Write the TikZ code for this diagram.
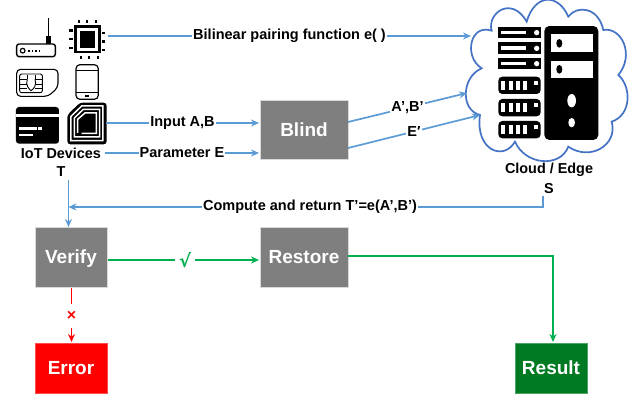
\documentclass[tikz,border=0pt]{standalone}
\usepackage{fontspec}
\setmainfont{Liberation Sans}
\newfontfamily\symfont{DejaVu Sans}
\usetikzlibrary{arrows.meta}
\definecolor{linkblue}{HTML}{5B9BD5}
\definecolor{cloudblue}{HTML}{4472C4}
\definecolor{okgreen}{HTML}{00B050}
\definecolor{boxgrey}{HTML}{7F7F7F}
\definecolor{resgreen}{HTML}{007A22}
\definecolor{badred}{HTML}{FF0000}
\tikzset{
  x=1pt,y=-1pt,
  boxn/.style={draw=black!15,line width=.6pt,fill=boxgrey,text=white,font=\fontsize{19}{22}\selectfont\bfseries,inner sep=0pt,minimum width=72pt,minimum height=60pt},
  lbl/.style={fill=white,inner sep=1pt,text=black,font=\fontsize{14.5}{16}\selectfont\bfseries},
  captext/.style={inner sep=0pt,text=black,font=\fontsize{14.4}{16}\selectfont\bfseries},
  link/.style={draw=linkblue,line width=1.7pt},
  linka/.style={link,-{Stealth[length=8pt,width=7pt]}},
  zoomed/.style={x=.3333pt,y=-.3333pt},
  greena/.style={draw=okgreen,line width=1.6pt,-{Stealth[length=8pt,width=7pt]}},
  reda/.style={draw=badred,line width=1.6pt,-{Stealth[length=8pt,width=7pt]}},
}
\begin{document}
\begin{tikzpicture}
\useasboundingbox (0,0) rectangle (642,400);
\fill[white] (0,0) rectangle (642,400);

% ---- device icons (drawn in 3x zoom coordinates)
\begin{scope}[zoomed]
 % router
 \draw[line width=1.1pt] (145,55)--(145,110);
 \fill (138,108) rectangle (152,132);
 \draw[line width=1.4pt,fill=white,rounded corners=2.5pt] (50,132) rectangle (166,170);
 \draw[line width=1.2pt] (68,152) circle (7);
 \foreach \q in {84,95,106,116}{\fill (\q,150) rectangle +(5,7);}
 % chip
 \fill (222,75) rectangle (302,160);
 \fill[white] (231,84) rectangle (294,152);
 \fill (240,93) rectangle (285,143);
 \foreach \q in {233,257,284}{\fill (\q,60) rectangle +(7,10);}
 \foreach \q in {240,264,290}{\fill (\q,168) rectangle +(7,10);}
 \foreach \q in {88,114,140}{\fill (207,\q) rectangle +(11,7);}
 \foreach \q in {95,121,147}{\fill (305,\q) rectangle +(11,7);}
 % SIM
 \draw[line width=1.1pt,rounded corners=4pt] (50,208)--(174,208)--(174,262)--(145,289)--(50,289)--cycle;
 \draw[line width=.9pt,rounded corners=2pt] (59,222) rectangle (127,278);
 \draw[line width=.8pt] (59,238)--(82,238) (59,252)--(80,252) (59,265)--(82,265)
   (105,238)--(127,238) (107,252)--(127,252) (105,265)--(127,265) (82,225)--(82,238) (105,225)--(105,238);
 \draw[line width=.9pt] (82,238) .. controls (75,255) and (88,268) .. (93,272) .. controls (100,268) and (112,255) .. (105,238);
 % phone
 \draw[line width=1.2pt,rounded corners=4pt] (228,194) rectangle (295,298);
 \draw[line width=.9pt] (228,210)--(295,210) (228,278)--(295,278);
 \fill (254,286) rectangle (268,290);
 % card
 \fill[rounded corners=3pt] (48,321) rectangle (177,431);
 \fill[white] (48,342) rectangle (177,350);
 \fill[white] (57,382) rectangle (112,390);
 \fill[white] (114,380) rectangle (125,390);
 \fill[white] (57,403) rectangle (100,409);
 % NFC tag
 \fill[rounded corners=3pt] (202,345)--(240,308)--(320,308)--(320,433)--(202,433)--cycle;
 \draw[white,line width=1.5pt] (213,349)--(245,318)--(309,318)--(309,422)--(213,422)--cycle;
 \draw[white,line width=1.5pt] (223,354)--(250,328)--(299,328)--(299,411)--(223,411)--cycle;
 \draw[white,line width=1.5pt] (233,399)--(233,358)--(255,339)--(289,339)--(289,400)--(245,400);
 \fill (248,362) rectangle (276,390);
\end{scope}

% ---- cloud and servers
\begin{scope}[shift={(440,0)},zoomed]
 \draw[cloudblue,line width=1.7pt,fill=white]
   (260,65) .. controls (285,-20) and (355,-20) .. (385,50)
   .. controls (410,15) and (475,20) .. (490,90)
   .. controls (545,80) and (585,165) .. (535,225)
   .. controls (575,260) and (575,345) .. (515,365)
   .. controls (535,435) and (450,485) .. (385,440)
   .. controls (360,505) and (255,495) .. (225,425)
   .. controls (190,485) and (105,450) .. (120,345)
   .. controls (60,330) and (65,230) .. (125,205)
   .. controls (70,170) and (90,70) .. (155,92)
   .. controls (140,40) and (215,-15) .. (260,65) -- cycle;
 \foreach \q in {80,127,173}{
   \fill (175,\q) rectangle (302,\q+35);
   \fill[white] (183,\q+12) rectangle (257,\q+23);
   \fill[white] (290,\q+18) circle (8);
 }
 \foreach \q in {230,297,363}{
   \fill[rounded corners=4pt] (175,\q) rectangle (302,\q+52);
   \foreach \r in {183,206,228,250}{\fill[white] (\r,\q+13) rectangle (\r+12,\q+40);}
   \fill[white] (282,\q+12) rectangle (294,\q+24);
 }
 \fill[rounded corners=5pt] (313,78) rectangle (475,420);
 \fill[white] (332,103) rectangle (458,155);
 \fill[white] (332,183) rectangle (458,235);
 \fill (358,130) ellipse (9 and 13);
 \fill (358,208) ellipse (9 and 13);
 \fill[white] (395,302) ellipse (13 and 20);
 \fill[white] (395,368) ellipse (10 and 14);
\end{scope}

% ---- boxes
\node[boxn,minimum width=88pt,minimum height=59pt] (blind) at (304,129.5) {Blind};
\node[boxn,text depth=0pt] (verify) at (71,257) {Verify};
\node[boxn,minimum width=88pt] (restore) at (304,257) {Restore};
\node[boxn,fill=badred,draw=badred!70,minimum height=50pt] (error) at (71,368) {Error};
\node[boxn,fill=resgreen,draw=resgreen!70,minimum height=50pt] (result) at (551,368) {Result};

% ---- captions
\node[captext] (iot) at (61,153) {IoT Devices};
\node[captext] (tname) at (61,172) {T};
\node[captext] (edge) at (549,170) {Cloud / Edge};
\node[captext] (sname) at (549,189) {S};

% ---- connector ends
\coordinate (chipout) at (108,36);
\coordinate (cloudin) at (471,36);
\coordinate (tagout) at (106,123);
\coordinate (blindin1) at (259,123);
\coordinate (iotout) at (105,153);
\coordinate (blindin2) at (259,153);
\coordinate (blindout1) at (348,122);
\coordinate (cloudin1) at (467,93);
\coordinate (blindout2) at (348,148);
\coordinate (cloudin2) at (480,115);
\coordinate (sout) at (542.7,196);
\coordinate (scorner) at (542.7,207);
\coordinate (tline) at (68.5,207);
\coordinate (ttop) at (68.5,180);
\coordinate (verifytop) at (68.5,227);
\coordinate (vout) at (108,260);
\coordinate (rin) at (259,260);
\coordinate (restout) at (348,256);
\coordinate (rcorner) at (553,256);
\coordinate (resin) at (553,342);
\coordinate (vdown) at (71.5,288);
\coordinate (errin) at (71.5,342);

% ---- blue connectors
\draw[linka] (chipout) -- (cloudin) node[lbl,pos=.5] (l1) {Bilinear pairing function e( )};
\draw[linka] (tagout) -- (blindin1) node[lbl,pos=.5] (l2) {Input A,B};
\draw[linka] (iotout) -- (blindin2) node[lbl,pos=.5] (l3) {Parameter E};
\draw[linka] (blindout1) -- (cloudin1) node[lbl,pos=.5] (l4) {A’,B’};
\draw[linka] (blindout2) -- (cloudin2) node[lbl,pos=.5] (l5) {E′};
\draw[linka] (sout) -- (scorner) -- (tline);
\draw[linka] (ttop) -- (verifytop);
\node[lbl] (l6) at (310,207) {Compute and return T’=e(A’,B’)};

% ---- green and red connectors
\draw[greena] (vout) -- (rin) node[pos=.51,fill=white,inner sep=0pt,minimum width=20pt,text=okgreen,font=\symfont\fontsize{18}{20}\selectfont\bfseries] (ok) {√};
\draw[greena] (restout) -- (rcorner) -- (resin);
\draw[reda] (vdown) -- (errin) node[pos=.52,fill=white,inner sep=0pt,minimum height=24pt,text=badred,font=\fontsize{16}{18}\selectfont\bfseries] (no) {×};
\end{tikzpicture}
\end{document}
